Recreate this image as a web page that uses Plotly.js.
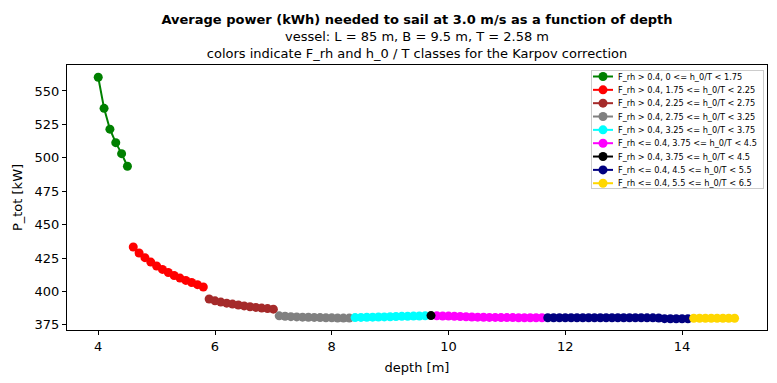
<!DOCTYPE html>
<html>
<head>
<meta charset="utf-8">
<script src="https://cdn.plot.ly/plotly-3.0.1.min.js"></script>
<style>html,body{margin:0;padding:0;background:#fff;}#chart{width:777px;height:383px;}</style>
</head>
<body>
<div id="chart"></div>
<script>
// series names
const seriesNames = [
  "F_rh > 0.4, 0 <= h_0/T < 1.75",
  "F_rh > 0.4, 1.75 <= h_0/T < 2.25",
  "F_rh > 0.4, 2.25 <= h_0/T < 2.75",
  "F_rh > 0.4, 2.75 <= h_0/T < 3.25",
  "F_rh > 0.4, 3.25 <= h_0/T < 3.75",
  "F_rh <= 0.4, 3.75 <= h_0/T < 4.5",
  "F_rh > 0.4, 3.75 <= h_0/T < 4.5",
  "F_rh <= 0.4, 4.5 <= h_0/T < 5.5",
  "F_rh <= 0.4, 5.5 <= h_0/T < 6.5"
];
const seriesColors = ["#008000","#ff0000","#a52a2a","#808080","#00ffff","#ff00ff","#000000","#000080","#ffd700"];

// depth [m] per class
const depthGreen = [4.0,4.1,4.2,4.3,4.4,4.5];
const depthRed = [4.6,4.7,4.8,4.9,5.0,5.1,5.2,5.3,5.4,5.5,5.6,5.7,5.8];
const depthBrown = [5.9,6.0,6.1,6.2,6.3,6.4,6.5,6.6,6.7,6.8,6.9,7.0];
const depthGray = [7.1,7.2,7.3,7.4,7.5,7.6,7.7,7.8,7.9,8.0,8.1,8.2,8.3];
const depthCyan = [8.4,8.5,8.6,8.7,8.8,8.9,9.0,9.1,9.2,9.3,9.4,9.5,9.6];
const depthMagenta = [9.8,9.9,10.0,10.1,10.2,10.3,10.4,10.5,10.6,10.7,10.8,10.9,11.0,11.1,11.2,11.3,11.4,11.5,11.6];
const depthBlack = [9.7];
const depthNavy = [11.7,11.8,11.9,12.0,12.1,12.2,12.3,12.4,12.5,12.6,12.7,12.8,12.9,13.0,13.1,13.2,13.3,13.4,13.5,13.6,13.7,13.8,13.9,14.0,14.1];
const depthGold = [14.2,14.3,14.4,14.5,14.6,14.7,14.8,14.9];

// P_tot [kW] per class
const powerGreen = [560.2,537.0,521.4,511.3,503.1,493.7];
const powerRed = [433.3,428.8,425.3,422.0,419.1,416.5,414.2,412.0,410.0,408.3,406.7,405.1,403.4];
const powerBrown = [394.4,393.0,392.1,391.3,390.6,389.9,389.2,388.6,388.1,387.6,387.2,386.8];
const powerGray = [381.8,381.5,381.2,381.0,380.8,380.7,380.6,380.5,380.4,380.3,380.2,380.1,380.1];
const powerCyan = [380.5,380.6,380.7,380.8,380.9,381.0,381.1,381.3,381.4,381.5,381.6,381.7,381.8];
const powerMagenta = [381.8,381.7,381.6,381.5,381.3,381.1,380.9,380.8,380.7,380.6,380.6,380.5,380.5,380.5,380.4,380.4,380.4,380.4,380.4];
const powerBlack = [382.0];
const powerNavy = [380.4,380.4,380.4,380.4,380.4,380.4,380.4,380.4,380.4,380.4,380.4,380.4,380.4,380.4,380.4,380.4,380.4,380.3,380.3,380.2,379.7,379.6,379.6,379.6,379.6];
const powerGold = [380.0,380.0,380.0,380.0,380.0,380.0,380.0,380.0];

const xs = [depthGreen,depthRed,depthBrown,depthGray,depthCyan,depthMagenta,depthBlack,depthNavy,depthGold];
const ys = [powerGreen,powerRed,powerBrown,powerGray,powerCyan,powerMagenta,powerBlack,powerNavy,powerGold];

const traces = xs.map((x,i)=>({
  x: x, y: ys[i], name: seriesNames[i], type: 'scatter', mode: 'lines+markers',
  line: {color: seriesColors[i], width: 2},
  marker: {color: seriesColors[i], size: 9}
}));

const font = "DejaVu Sans, sans-serif";
const layout = {
  width: 777, height: 383,
  margin: {l: 67, r: 10, t: 65, b: 53},
  paper_bgcolor: '#fff', plot_bgcolor: '#fff',
  font: {family: font, size: 13, color: '#000'},
  title: {
    text: "<b>Average power (kWh) needed to sail at 3.0 m/s as a function of depth</b><br>vessel: L = 85 m, B = 9.5 m, T = 2.58 m<br>colors indicate F_rh and h_0 / T classes for the Karpov correction",
    font: {family: font, size: 13, color: '#000'},
    x: 0.5, xref: 'paper', xanchor: 'center',
    y: 0.938, yref: 'container', yanchor: 'top'
  },
  xaxis: {
    range: [3.465, 15.455], tickvals: [4,6,8,10,12,14], ticks: 'outside', ticklen: 4, tickcolor: '#000',
    showgrid: false, zeroline: false, showline: true, linecolor: '#000', linewidth: 1, mirror: true,
    tickfont: {family: font, size: 13},
    title: {text: "depth [m]", font: {family: font, size: 13}, standoff: 10}
  },
  yaxis: {
    range: [371.2, 569.4], tickvals: [375,400,425,450,475,500,525,550], ticks: 'outside', ticklen: 4, tickcolor: '#000',
    showgrid: false, zeroline: false, showline: true, linecolor: '#000', linewidth: 1, mirror: true,
    tickfont: {family: font, size: 13},
    title: {text: "P_tot [kW]", font: {family: font, size: 13}, standoff: 9}
  },
  legend: {
    x: 0.994, y: 0.981, xanchor: 'right', yanchor: 'top',
    bgcolor: 'rgba(255,255,255,0.8)', bordercolor: '#cccccc', borderwidth: 1,
    font: {family: font, size: 8.2, color: '#000'},
    tracegroupgap: 0
  },
  showlegend: true
};

// compact the legend to matplotlib-like spacing
function compactLegend(gd) {
  const leg = gd.querySelector('.legend');
  if (!leg) return;
  const box = {left: 591, top: 69.5, width: 172, height: 118, first: 7, step: 13.34};
  leg.setAttribute('transform', 'translate(' + box.left + ',' + box.top + ')');
  const bg = leg.querySelector('rect.bg');
  if (bg) {
    bg.setAttribute('x', 0.5); bg.setAttribute('y', 0.5);
    bg.setAttribute('width', box.width); bg.setAttribute('height', box.height);
    bg.style.strokeWidth = '1px';
  }
  const sb = leg.querySelector('.scrollbox');
  if (sb) { sb.setAttribute('transform', ''); sb.removeAttribute('clip-path'); }
  leg.querySelectorAll('.groups').forEach(g => g.setAttribute('transform', ''));
  leg.querySelectorAll('.traces').forEach((t, i) => {
    t.setAttribute('transform', 'translate(0,' + (box.first + i * box.step) + ')');
    const txt = t.querySelector('text.legendtext');
    if (txt) txt.setAttribute('x', 27);
    t.querySelectorAll('.legendlines path').forEach(p => p.setAttribute('d', 'M2,0h20'));
    t.querySelectorAll('.legendpoints path').forEach(p => p.setAttribute('transform', 'translate(12,0)'));
  });
  const sbar = leg.querySelector('.scrollbar');
  if (sbar) sbar.style.display = 'none';
}

Plotly.newPlot('chart', traces, layout, {displayModeBar: false, staticPlot: true})
  .then(gd => compactLegend(gd));
</script>
</body>
</html>
